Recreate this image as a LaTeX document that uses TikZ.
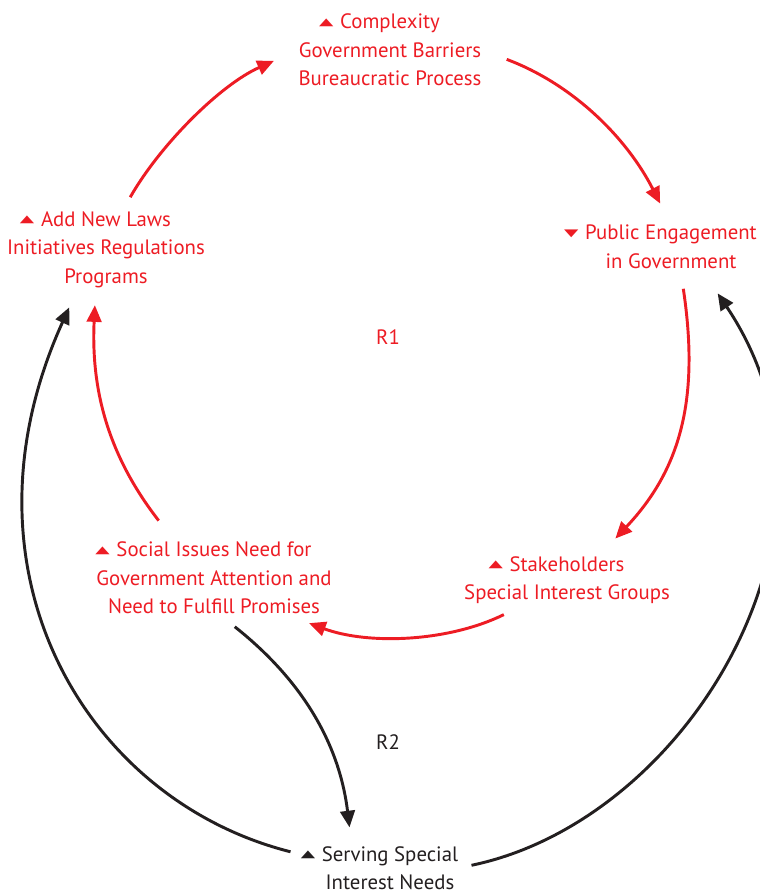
\documentclass[tikz,border=0pt]{standalone}
\usepackage{fontspec}
\setmainfont{PT Sans}
\newfontfamily\symfont{DejaVu Sans}
\usetikzlibrary{arrows.meta}
\definecolor{loopred}{RGB}{237,28,36}
\definecolor{loopblack}{RGB}{35,31,32}
\newcommand{\upmark}{\llap{\raisebox{2.5pt}{\scalebox{1}[0.55]{\symfont\fontsize{14}{14}\selectfont ▲}}\hspace{5pt}}}
\newcommand{\downmark}{\llap{\raisebox{2.5pt}{\scalebox{1}[0.55]{\symfont\fontsize{14}{14}\selectfont ▼}}\hspace{5pt}}}
\begin{document}
\begin{tikzpicture}[x=0.75pt,y=0.75pt,yscale=-1,xscale=1,
	var/.style={align=center,inner sep=0pt,font=\fontsize{15.6}{21.4}\selectfont},
	redvar/.style={var,text=loopred},
	blackvar/.style={var,text=loopblack},
	redlink/.style={draw=loopred,line width=2.2pt,-{Triangle[length=12.5pt,width=11pt]}},
	blacklink/.style={draw=loopblack,line width=2.2pt,-{Triangle[length=12.5pt,width=11pt]}}]
	\useasboundingbox (0,0) rectangle (760,894); %diagram is 760 wide and 894 high
	
	%Text Node
	\node[redvar] (cplx) at (390,50) {\upmark Complexity\\Government Barriers\\Bureaucratic Process};
	%Text Node
	\node[redvar] (laws) at (106,249.5) {\upmark Add New Laws\\Initiatives Regulations\\Programs};
	%Text Node
	\node[redvar] (pub) at (671,247) {\downmark Public Engagement\\in Government};
	%Text Node
	\node[redvar] (stake) at (567,580) {\upmark Stakeholders\\Special Interest Groups};
	%Text Node
	\node[redvar] (social) at (214,578) {\upmark Social Issues Need for\\Government Attention and\\Need to Fulfill Promises};
	%Text Node
	\node[blackvar] (serve) at (390,868) {\upmark Serving Special\\Interest Needs};
	%Text Node
	\node[redvar] (rone) at (388,337) {R1};
	%Text Node
	\node[blackvar] (rtwo) at (388,742) {R2};
	
	%Curve Lines (loop R1)
	\draw[redlink,shorten <=12pt,shorten >=20pt] (laws.67) .. controls (160,145) and (220,85) .. (cplx.west);
	%Curve Lines
	\draw[redlink,shorten <=20pt,shorten >=18pt] (cplx.east) .. controls (575,85) and (628,140) .. (pub.north);
	%Curve Lines
	\draw[redlink,shorten <=15pt,shorten >=18pt] (pub.-67) .. controls (700,400) and (680,470) .. (stake.37);
	%Curve Lines
	\draw[redlink,shorten <=18pt,shorten >=19pt] (stake.210) .. controls (448,642) and (368,645) .. (social.-27);
	%Curve Lines
	\draw[redlink,shorten <=20pt,shorten >=13pt] (social.137) .. controls (107,454) and (91,388) .. (laws.-105);
	
	%Curve Lines (loop R2)
	\draw[blacklink,shorten <=15pt,shorten >=14pt] (social.-82) .. controls (307,684) and (340,749) .. (serve.150);
	%Curve Lines
	\draw[blacklink,shorten <=10pt,shorten >=22pt] (serve.east) .. controls (690,820) and (870,520) .. (pub.-36);
	%Curve Lines
	\draw[blacklink,shorten <=24pt,shorten >=16pt] (serve.173) .. controls (85,800) and (-50,570) .. (laws.-126);
	
\end{tikzpicture}
\end{document}
